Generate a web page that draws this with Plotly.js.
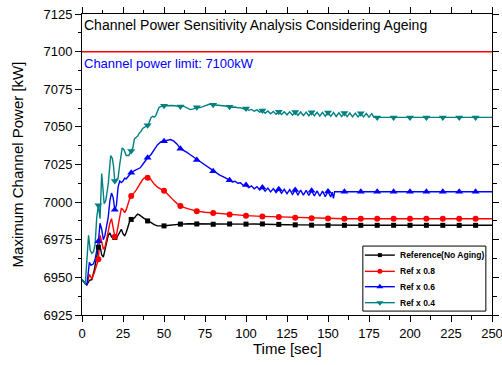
<!DOCTYPE html>
<html>
<head>
<meta charset="utf-8">
<script src="https://cdn.plot.ly/plotly-3.0.1.min.js"></script>
<style>html,body{margin:0;padding:0;background:#fff;}#chart{width:502px;height:365px;}</style>
</head>
<body>
<div id="chart"></div>
<script>
// ---- data ----
const seriesNames = ["Reference(No Aging)", "Ref x 0.8", "Ref x 0.6", "Ref x 0.4"];

const tRef = [
0,1.5,3,4.5,6,7.5,9,10,11,12,
13,14,15,16,17,18,19,20,21,22,
23,24,25,26,27,28,29,30,31,32,
33,34,35,36,37,38,39,40,42,44,
46,48,50,52,55,60,65,70,75,80,
85,90,95,100,105,110,115,120,125,130,
135,140,145,150,160,170,180,190,200,210,
220,230,240,250];
const pRef = [
6948.5,6946.5,6945,6948,6948.5,6955,6963,6970,6971,6965,
6963.5,6969,6975,6978,6979.5,6977,6976,6976.5,6976,6978,
6981,6982,6979,6977.5,6980,6984,6987,6988.5,6989,6989.5,
6991,6992,6991.5,6990.5,6989.5,6989,6988.5,6987.5,6986.5,6985,
6984.2,6984,6984.2,6984.5,6985,6985.4,6985.6,6985.5,6985.4,6985.3,
6985.4,6985.5,6985.5,6985.4,6985.5,6985.5,6985.4,6985.2,6985,6984.9,
6984.8,6984.7,6984.6,6984.6,6984.6,6984.6,6984.6,6984.6,6984.6,6984.6,
6984.6,6984.6,6984.6,6984.6];

const t08 = [
0,1.5,3,4.5,6,7.5,9,10,11,12,
13,14,15,16,17,18,19,20,21,22,
23,24,25,26,27,28,29,30,31,32,
33,34,35,36,37,38,39,40,41,42,
43,44,46,48,50,52,54,56,58,60,
62,65,70,75,80,90,100,110,120,130,
140,150,160,170,180,190,200,210,220,230,
240,250];
const p08 = [
6948.5,6946.5,6945,6952,6949,6953,6958,6962,6978,6974,
6969,6970,6976,6980,6986,6989,6984,6977,6978,6985,
6991,6996,6995,6993,6995,6999,7002,7004,7005,7006.5,
7008,7010,7012,7013.5,7015,7016,7016.5,7016.2,7016,7015,
7013.5,7012,7010,7008.8,7007.5,7005.5,7003,7001,6999,6997.5,
6996.5,6995.5,6994,6993.3,6992.8,6991.7,6991,6990.5,6990.1,6989.7,
6989.3,6989.1,6989,6989,6989,6989,6989,6989,6989,6989,
6989,6989];

const t06 = [
0,1.5,3,4.5,5.5,7,8,9,10,11,
12,13,14,15,16,17,18,19,20,21,
22,23,24,25,26,27,28,29,30,32,
34,35.5,37,39,40,42,44,46,48,50,
52,54,56,58,60,62,64,66,68,70,
72,74,76,78,80,82,84,86,88,90,
91.67,93.33,95,96.67,98.33,100,101.67,103.33,105,106.67,
108.33,110,111.67,113.33,115,116.67,118.33,120,121.67,123.33,
125,126.67,128.33,130,131.67,133.33,135,136.67,138.33,140,
141.67,143.33,145,146.67,148.33,150,151.67,152.5,153.33,154,160,
170,180,190,200,210,220,230,240,250];
const p06 = [
6948.5,6946.5,6945,6960,6958,6959,6962,6968,6974,6986,
6982,6975,6978,6984,6990,7001,7006,7003,6995,6998,
7010,7014,7013,7014,7016,7015.5,7017,7018.5,7019.5,7021,
7022,7022.8,7025,7028,7029.5,7031.5,7035,7038,7040,7040.4,
7041.2,7041.6,7040.5,7038.5,7035.5,7034.5,7033,7031.5,7030,7028,
7026.5,7025,7023.5,7022,7020.5,7019.5,7018,7017,7015.5,7014.6,
7013.4,7013.9,7012.5,7012.8,7011.0,7011.4,7009.6,7010.8,7008.9,7010.3,
7008.1,7009.7,7007.3,7009.3,7006.8,7009,7006.4,7008.6,7005.9,7008.5,
7005.6,7008.3,7005.2,7008,7004.9,7008,7004.7,7007.8,7004.4,7007.6,
7004.1,7007.5,7003.9,7007.3,7003.6,7007.1,7003.4,7006.6,7002.5,7006.9,7006.9,
7006.9,7006.9,7006.9,7006.9,7006.9,7006.9,7006.9,7006.9,7006.9];

const t04 = [
0,1,2,3,4,5,6,7,8,9,
10,11,12,13,13.5,14.5,16,17.5,18.5,19.2,
20,21,22,23,24.5,25.5,27,28.5,30,31,
32,33,34,35,36,37,38,39,40,41,
42,43,44,45,46,47,48,49,50,55,
60,62,64,66,68,70,72,74,76,78,
80,82,84,86,88,90,91.67,93.33,95,96.67,
98.33,100,101.67,103.33,105,106.67,108.33,110,111.67,113.33,
115,116.67,118.33,120,121.67,123.33,125,126.67,128.33,130,
131.67,133.33,135,136.67,138.33,140,141.67,143.33,145,146.67,
148.33,150,151.67,153.33,155,156.67,158.33,160,161.67,163.33,
165,166.67,168.33,170,171.67,173.33,175,176.67,178,180,
190,200,210,220,230,240,250];
const p04 = [
6948.5,6947.5,6945.5,6963,6978,6968,6966,6967,6972,6990,
6998,6989,7019,7006,6999,7001,7012,7031,7029,7024,
7014,7015,7016,7025,7036,7035,7031,7031,7034,7036,
7042,7043,7044,7046,7047,7049,7049.5,7050,7051,7053,
7056,7057,7056.5,7057.5,7060,7063,7063.5,7063.5,7064,7064.2,
7063.5,7063.8,7062.5,7061.5,7062,7063,7062.8,7063.5,7064.5,7065.2,
7064.7,7064.6,7064.4,7064,7063.7,7063.3,7063,7063.2,7062.6,7062.8,
7062,7062.2,7061,7061.6,7060.4,7061.3,7059.8,7060.8,7059,7060.6,
7058.7,7060.3,7058.4,7060,7058.2,7060,7058,7060,7057.8,7059.9,
7057.7,7059.9,7057.5,7059.8,7057.4,7059.8,7057.3,7059.7,7057.2,7059.6,
7057.1,7059.6,7057,7059.5,7056.9,7059.4,7056.8,7059.3,7056.8,7059.2,
7056.7,7059.1,7056.6,7059,7056.6,7058.9,7056.5,7058.8,7056.3,7056.3,
7056.3,7056.3,7056.3,7056.3,7056.3,7056.3,7056.3];

const limitValue = [7100];
const xTicks = [0,25,50,75,100,125,150,175,200,225,250];
const yTicks = [6925,6950,6975,7000,7025,7050,7075,7100,7125];
const titleText = "Channel Power Sensitivity Analysis Considering Ageing";
const limitText = "Channel power limit: 7100kW";
const xTitle = "Time [sec]";
const yTitle = "Maximum Channel Power [kW]";
const markerStep = 10;

// ---- styles ----
const colors = ["#000000", "#ff0000", "#0000ff", "#008080"];
const symbols = ["square", "circle", "triangle-up", "triangle-down"];
const msizes = [5, 6, 7, 7];
const allT = [tRef, t08, t06, t04];
const allP = [pRef, p08, p06, p04];
const xR = [xTicks[0], xTicks[xTicks.length - 1]];
const yR = [yTicks[0], yTicks[yTicks.length - 1]];

// legend placement (fractions of the plot area)
const LEG = {x0: 0.685, x1: 0.985, y0: 0.013, y1: 0.229,
             rows: [0.199, 0.145, 0.094, 0.041], lx0: 0.690, lx1: 0.763, tx: 0.771};

const traces = [];
for (let i = 0; i < 4; i++) {
  traces.push({
    x: allT[i], y: allP[i], type: "scatter", mode: "lines",
    line: {color: colors[i], width: 1.4}, hoverinfo: "skip"
  });
}
for (let i = 0; i < 4; i++) {
  const mx = [], my = [];
  allT[i].forEach((t, k) => {
    if (t > 0 && t < 250 && Math.abs(t % markerStep) < 1e-9) { mx.push(t); my.push(allP[i][k]); }
  });
  traces.push({
    x: mx, y: my, type: "scatter", mode: "markers",
    marker: {color: colors[i], symbol: symbols[i], size: msizes[i]}, hoverinfo: "skip"
  });
}
// legend symbols: fraction of plot area converted through the axis ranges
for (let i = 0; i < 4; i++) {
  const fx = (LEG.lx0 + LEG.lx1) / 2;
  traces.push({
    x: [xR[0] + fx * (xR[1] - xR[0])], y: [yR[0] + LEG.rows[i] * (yR[1] - yR[0])],
    type: "scatter", mode: "markers", cliponaxis: false,
    marker: {color: colors[i], symbol: symbols[i], size: msizes[i] - 1}, hoverinfo: "skip"
  });
}

const FONT = "Liberation Sans, Arial, sans-serif";
const axisCommon = {
  showline: true, linecolor: "#000", linewidth: 1, mirror: "allticks",
  ticks: "outside", ticklen: 6, tickwidth: 1, tickcolor: "#000",
  showgrid: false, zeroline: false, ticklabeloverflow: "allow",
  tickfont: {family: FONT, size: 13, color: "#000"},
  minor: {ticks: "outside", ticklen: 3.5, tickwidth: 1, tickcolor: "#000", showgrid: false}
};

const shapes = [{
  type: "line", xref: "paper", x0: 0, x1: 1, yref: "y", y0: limitValue[0], y1: limitValue[0],
  line: {color: "#ff0000", width: 1.5}, layer: "below"
}, {
  type: "rect", xref: "paper", yref: "paper", x0: LEG.x0, x1: LEG.x1, y0: LEG.y0, y1: LEG.y1,
  line: {color: "#000", width: 1}, fillcolor: "rgba(0,0,0,0)", layer: "above"
}];
const annotations = [
  {text: titleText, xref: "paper", yref: "paper", x: 0.0, y: 0.964, xanchor: "left", yanchor: "middle",
   showarrow: false, font: {family: FONT, size: 14, color: "#000"}},
  {text: limitText, xref: "paper", yref: "paper", x: 0.0, y: 0.834, xanchor: "left", yanchor: "middle",
   showarrow: false, font: {family: FONT, size: 13, color: "#0000ff"}},
  {text: xTitle, xref: "paper", yref: "paper", x: 0.5, y: -0.11, xanchor: "center", yanchor: "middle",
   showarrow: false, borderpad: 0, font: {family: FONT, size: 15, color: "#000"}}
];
for (let i = 0; i < 4; i++) {
  shapes.push({type: "line", xref: "paper", yref: "paper", x0: LEG.lx0, x1: LEG.lx1,
    y0: LEG.rows[i], y1: LEG.rows[i], line: {color: colors[i], width: 1.4}, layer: "below"});
  annotations.push({text: "<b>" + seriesNames[i] + "</b>", xref: "paper", yref: "paper",
    x: LEG.tx, y: LEG.rows[i], xanchor: "left", yanchor: "middle", showarrow: false,
    font: {family: FONT, size: 8.5, color: "#000"}});
}

const layout = {
  width: 502, height: 365,
  margin: {l: 82, r: 10, t: 14, b: 50},
  paper_bgcolor: "#fff", plot_bgcolor: "#fff",
  font: {family: FONT, color: "#000"},
  showlegend: false,
  xaxis: Object.assign({}, axisCommon, {
    range: xR, tickmode: "array", tickvals: xTicks,
    minor: Object.assign({}, axisCommon.minor, {dtick: 12.5})
  }),
  yaxis: Object.assign({}, axisCommon, {
    range: yR, tickmode: "array", tickvals: yTicks,
    minor: Object.assign({}, axisCommon.minor, {dtick: 12.5, tick0: 6925}),
    title: {text: yTitle, font: {family: FONT, size: 15, color: "#000"}, standoff: 16}
  }),
  shapes: shapes,
  annotations: annotations
};

Plotly.newPlot("chart", traces, layout, {displayModeBar: false, staticPlot: true});
</script>
</body>
</html>
